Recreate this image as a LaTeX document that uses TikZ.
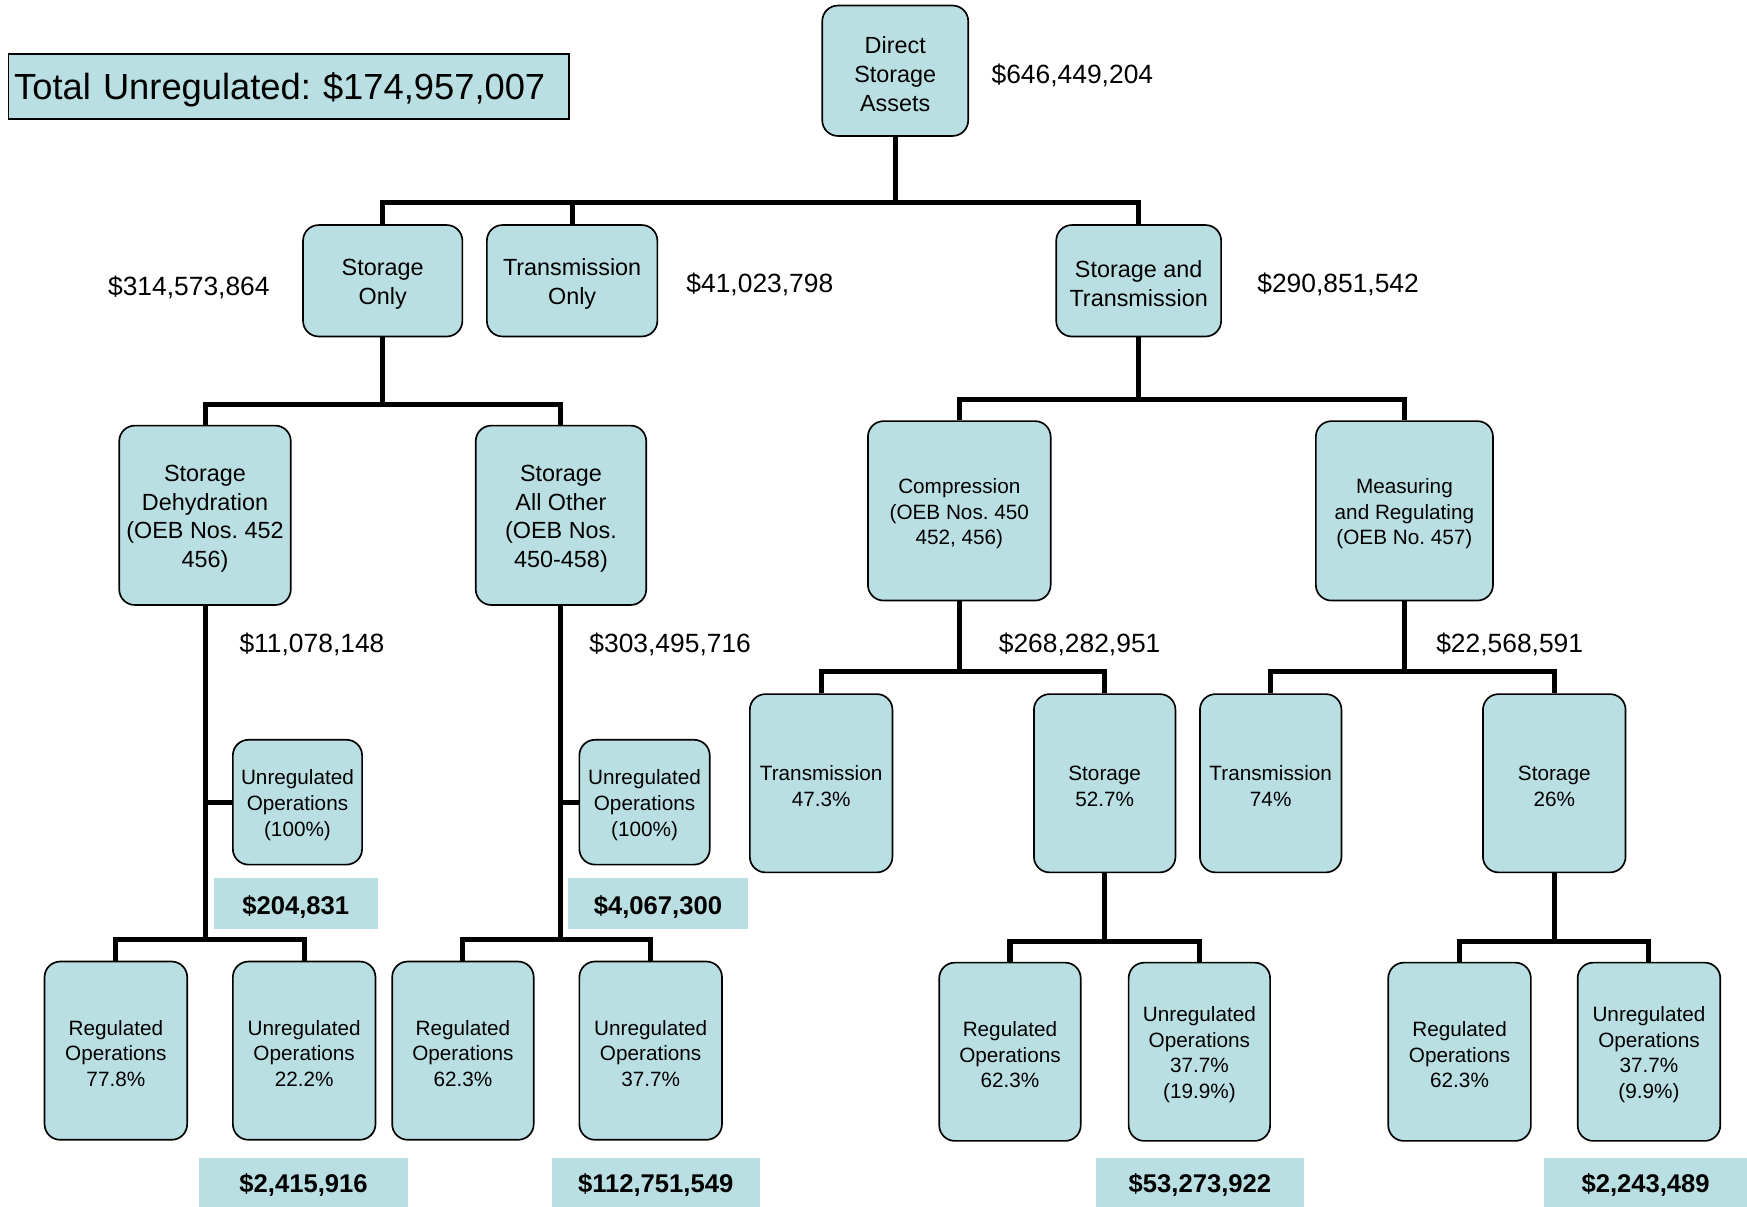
\documentclass[tikz,border=0pt]{standalone}
\usepackage{fontspec}
\setmainfont{Liberation Sans}
\definecolor{boxblue}{RGB}{186,223,227}
\frenchspacing
% raises the first line so box text sits a little lower
\newcommand{\tstrut}{\rule{0pt}{1em}}
\begin{document}
\begin{tikzpicture}[x=1pt,y=-1pt,
  box/.style={draw=black, line width=1.5pt, fill=boxblue, rounded corners=14pt,
    align=center, inner sep=0pt, font=\fontsize{21}{25.8}\selectfont},
  sbox/.style={box, font=\fontsize{18.6}{23}\selectfont},
  leaf/.style={sbox, minimum width=128pt, minimum height=160pt},
  mid/.style={sbox, minimum width=128pt, minimum height=160pt},
  side/.style={sbox, minimum width=116pt, minimum height=112pt},
  amt/.style={inner sep=0pt, font=\fontsize{23.7}{28}\selectfont},
  val/.style={fill=boxblue, inner sep=0pt, font=\bfseries\fontsize{23}{28}\selectfont},
  conn/.style={line width=4.5pt, line join=miter}]
\useasboundingbox (0,0) rectangle (1568,1083);
\fill[white] (0,0) rectangle (1568,1083);

% headline total
\node[draw=black, line width=1.5pt, fill=boxblue, anchor=north west,
  minimum height=58pt, text width=493pt, inner xsep=5pt, inner ysep=0pt,
  align=left, font=\fontsize{32.6}{38}\selectfont] (tot) at (7,48)
  {\rule{0pt}{30pt}Total Unregulated: \$174,957,007};

% top level
\node[box, minimum width=131pt, minimum height=117pt] (dsa) at (803.5,63.5) {\tstrut Direct\\Storage\\Assets};
\node[amt] (a0) at (962.5,68) {\$646,449,204};

% second level
\node[box, minimum width=143pt, minimum height=100pt] (so) at (343.5,252) {\tstrut Storage\\Only};
\node[box, minimum width=153pt, minimum height=100pt] (to) at (513.5,252) {\tstrut Transmission\\Only};
\node[box, minimum width=148pt, minimum height=100pt] (st) at (1022,252) {\tstrut Storage and\\Transmission};
\node[amt] (a1) at (169.5,258) {\$314,573,864};
\node[amt] (a2) at (682,255) {\$41,023,798};
\node[amt] (a3) at (1201,255) {\$290,851,542};

% third level
\node[box, minimum width=154pt, minimum height=161pt] (sd) at (184,462.5) {\tstrut Storage\\Dehydration\\(OEB Nos. 452\\456)};
\node[box, minimum width=153pt, minimum height=161pt] (sa) at (503.5,462.5) {\tstrut Storage\\All Other\\(OEB Nos.\\450-458)};
\node[sbox, minimum width=164pt, minimum height=161pt] (cp) at (861,458.5) {\tstrut Compression\\(OEB Nos. 450\\452, 456)};
\node[sbox, minimum width=159pt, minimum height=161pt] (mr) at (1260.5,458.5) {\tstrut Measuring\\and Regulating\\(OEB No. 457)};
\node[amt] (a4) at (280,578) {\$11,078,148};
\node[amt] (a5) at (601.5,578) {\$303,495,716};
\node[amt] (a6) at (969,578) {\$268,282,951};
\node[amt] (a7) at (1355,578) {\$22,568,591};

% storage-only branches
\node[side] (uu1) at (267,720) {\tstrut Unregulated\\Operations\\(100\%)};
\node[side, minimum width=117pt] (uu2) at (578.5,720) {\tstrut Unregulated\\Operations\\(100\%)};
\node[val, minimum width=147pt, minimum height=46pt] (v1) at (265.5,811) {\tstrut\$204,831};
\node[val, minimum width=161pt, minimum height=46pt] (v2) at (590.5,811) {\tstrut\$4,067,300};

\node[leaf] (ro1) at (104,943) {\tstrut Regulated\\Operations\\77.8\%};
\node[leaf] (uo1) at (273,943) {\tstrut Unregulated\\Operations\\22.2\%};
\node[leaf, minimum width=127pt] (ro2) at (415.5,943) {\tstrut Regulated\\Operations\\62.3\%};
\node[leaf] (uo2) at (584,943) {\tstrut Unregulated\\Operations\\37.7\%};
\node[val, minimum width=187pt, minimum height=44pt] (v3) at (272.5,1061) {\tstrut\$2,415,916};
\node[val, minimum width=187pt, minimum height=44pt] (v4) at (588.5,1061) {\tstrut\$112,751,549};

% storage-and-transmission branches
\node[mid] (t1) at (737,703) {\tstrut Transmission\\47.3\%};
\node[mid, minimum width=127pt] (s1) at (991.5,703) {\tstrut Storage\\52.7\%};
\node[mid, minimum width=127pt] (t2) at (1140.5,703) {\tstrut Transmission\\74\%};
\node[mid] (s2) at (1395,703) {\tstrut Storage\\26\%};

\node[leaf, minimum width=127pt] (ro3) at (906.5,944) {\tstrut Regulated\\Operations\\62.3\%};
\node[leaf, minimum width=127pt] (uo3) at (1076.5,944) {\tstrut Unregulated\\Operations\\37.7\%\\(19.9\%)};
\node[leaf] (ro4) at (1310,944) {\tstrut Regulated\\Operations\\62.3\%};
\node[leaf] (uo4) at (1480,944) {\tstrut Unregulated\\Operations\\37.7\%\\(9.9\%)};
\node[val, minimum width=186pt, minimum height=44pt] (v5) at (1077,1061) {\tstrut\$53,273,922};
\node[val, minimum width=182pt, minimum height=44pt] (v6) at (1477,1061) {\tstrut\$2,243,489};

% bus levels
\coordinate (b0) at (0,182);
\coordinate (b1) at (0,363);
\coordinate (b2) at (0,359);
\coordinate (b3) at (0,843);
\coordinate (b4) at (0,603);
\coordinate (b5) at (0,845);

% connectors
\draw[conn] (dsa.south) -- (dsa.south |- b0);
\draw[conn] (so.north) |- (st.north |- b0) -- (st.north);
\draw[conn] (to.north) -- (to.north |- b0);

\draw[conn] (so.south) -- (so.south |- b1);
\draw[conn] (sd.north) |- (sa.north |- b1) -- (sa.north);

\draw[conn] (st.south) -- (st.south |- b2);
\draw[conn] (cp.north) |- (mr.north |- b2) -- (mr.north);

\draw[conn] (sd.south) -- (sd.south |- b3);
\draw[conn] (sd.south |- uu1.west) -- (uu1.west);
\draw[conn] (ro1.north) |- (uo1.north |- b3) -- (uo1.north);

\draw[conn] (sa.south) -- (sa.south |- b3);
\draw[conn] (sa.south |- uu2.west) -- (uu2.west);
\draw[conn] (ro2.north) |- (uo2.north |- b3) -- (uo2.north);

\draw[conn] (cp.south) -- (cp.south |- b4);
\draw[conn] (t1.north) |- (s1.north |- b4) -- (s1.north);
\draw[conn] (mr.south) -- (mr.south |- b4);
\draw[conn] (t2.north) |- (s2.north |- b4) -- (s2.north);

\draw[conn] (s1.south) -- (s1.south |- b5);
\draw[conn] (ro3.north) |- (uo3.north |- b5) -- (uo3.north);
\draw[conn] (s2.south) -- (s2.south |- b5);
\draw[conn] (ro4.north) |- (uo4.north |- b5) -- (uo4.north);
\end{tikzpicture}
\end{document}
